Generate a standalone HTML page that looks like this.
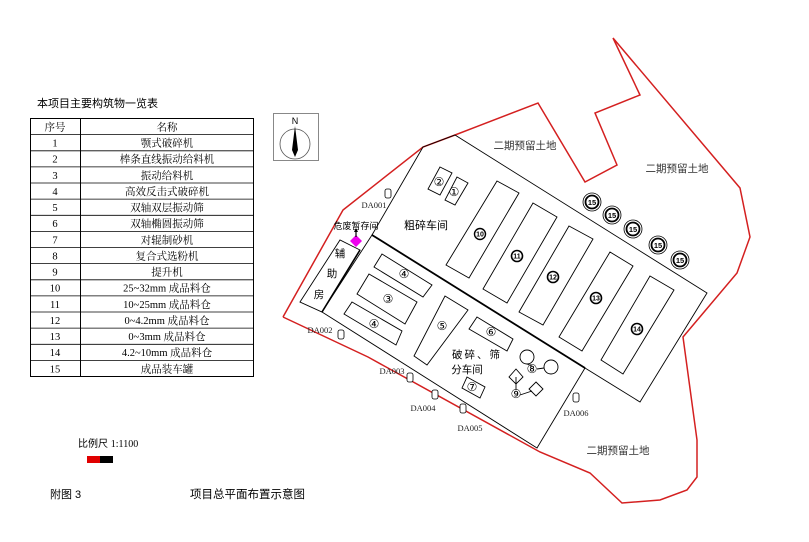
<!DOCTYPE html>
<html><head><meta charset="utf-8"><style>
html,body{margin:0;padding:0;background:#fff;}
body{width:809px;height:542px;position:relative;overflow:hidden;font-family:"Liberation Serif","Noto Serif CJK SC",serif;}
svg{position:absolute;left:0;top:0;}
</style></head><body>
<svg width="809" height="542" viewBox="0 0 809 542" xmlns="http://www.w3.org/2000/svg">
<g font-family="Liberation Serif, Noto Serif CJK SC, serif">
<!-- title -->
<text x="37" y="107" font-size="11" font-family="Liberation Sans, Noto Sans CJK SC, sans-serif">本项目主要构筑物一览表</text>
<!-- table -->
<g stroke="#000" stroke-width="1" fill="none">
<rect x="30.5" y="118.5" width="223" height="258"/>
<line x1="80.5" y1="118.5" x2="80.5" y2="376.5"/>
</g>
<g stroke="#000" stroke-width="0.8">
<line x1="30" x2="254" y1="134.6" y2="134.6"/><line x1="30" x2="254" y1="150.8" y2="150.8"/>
<line x1="30" x2="254" y1="166.9" y2="166.9"/><line x1="30" x2="254" y1="183" y2="183"/>
<line x1="30" x2="254" y1="199.1" y2="199.1"/><line x1="30" x2="254" y1="215.3" y2="215.3"/>
<line x1="30" x2="254" y1="231.4" y2="231.4"/><line x1="30" x2="254" y1="247.5" y2="247.5"/>
<line x1="30" x2="254" y1="263.6" y2="263.6"/><line x1="30" x2="254" y1="279.8" y2="279.8"/>
<line x1="30" x2="254" y1="295.9" y2="295.9"/><line x1="30" x2="254" y1="312" y2="312"/>
<line x1="30" x2="254" y1="328.1" y2="328.1"/><line x1="30" x2="254" y1="344.3" y2="344.3"/>
<line x1="30" x2="254" y1="360.4" y2="360.4"/>
</g>
<g font-size="10.5" text-anchor="middle">
<text x="55" y="130.5">序号</text><text x="167" y="130.5">名称</text>
<text x="55" y="146.5">1</text><text x="167" y="146.5">颚式破碎机</text>
<text x="55" y="162.7">2</text><text x="167" y="162.7">棒条直线振动给料机</text>
<text x="55" y="178.8">3</text><text x="167" y="178.8">振动给料机</text>
<text x="55" y="195">4</text><text x="167" y="195">高效反击式破碎机</text>
<text x="55" y="211.1">5</text><text x="167" y="211.1">双轴双层振动筛</text>
<text x="55" y="227.2">6</text><text x="167" y="227.2">双轴椭圆振动筛</text>
<text x="55" y="243.3">7</text><text x="167" y="243.3">对辊制砂机</text>
<text x="55" y="259.5">8</text><text x="167" y="259.5">复合式选粉机</text>
<text x="55" y="275.6">9</text><text x="167" y="275.6">提升机</text>
<text x="55" y="291.7">10</text><text x="167" y="291.7">25~32mm 成品料仓</text>
<text x="55" y="307.8">11</text><text x="167" y="307.8">10~25mm 成品料仓</text>
<text x="55" y="324">12</text><text x="167" y="324">0~4.2mm 成品料仓</text>
<text x="55" y="340.1">13</text><text x="167" y="340.1">0~3mm 成品料仓</text>
<text x="55" y="356.2">14</text><text x="167" y="356.2">4.2~10mm 成品料仓</text>
<text x="55" y="372.3">15</text><text x="167" y="372.3">成品装车罐</text>
</g>
<!-- compass -->
<rect x="273.5" y="113.5" width="45" height="47" fill="none" stroke="#888" stroke-width="1"/>
<circle cx="295" cy="144" r="15" fill="none" stroke="#555" stroke-width="0.8"/>
<polygon points="295,126 298,150 295,157 292,150" fill="#000"/>
<text x="295" y="124" font-size="9" text-anchor="middle" font-family="Liberation Sans, sans-serif">N</text>
<!-- red boundary -->
<polyline fill="none" stroke="#d42020" stroke-width="1.5" points="283,317 343,210 423,147 455,135 538,103 585,182 617,165 595,113 640,95 613,38 740,188 750,237 737,273 683,337 697,440 697,477 687,490 660,500 622,503 590,473 540,452 368,357 283,317"/>
<!-- buildings -->
<g fill="none" stroke="#000" stroke-width="0.9">
<polygon points="423,147 455,135 707,293 640,402 585,368 372,235"/>
<polygon points="372,235 585,368 537,448 322,312"/>
<polygon points="300,302 340,240 360,250 322,312"/>
<line x1="372" y1="235" x2="585" y2="368" stroke-width="1.8"/>
<line x1="360" y1="250" x2="322" y2="312" stroke-width="1.6"/>
<polygon points="497,181 519,193 469,278 446,265"/>
<polygon points="533,203 557,217 507,303 483,289"/>
<polygon points="569,226 593,239 543,325 519,312"/>
<polygon points="610,252 633,266 582,351 559,337"/>
<polygon points="650,276 674,290 623,374 601,360"/>
<polygon points="440,167 452,173 440,195 428,189"/>
<polygon points="457,177 468,183 455,205 445,200"/>
<polygon points="382,254 432,285 423,297 374,267"/>
<polygon points="369,274 417,302 405,324 357,294"/>
<polygon points="352,302 402,331 396,345 344,314"/>
<polygon points="445,296 468,310 427,365 414,356"/>
<polygon points="477,317 513,339 507,351 469,329"/>
<polygon points="467,377 485,387 480,398 462,388"/>
<circle cx="527" cy="357" r="7"/><circle cx="551" cy="367" r="7"/>
<line x1="527" y1="364" x2="532" y2="366"/><line x1="537" y1="369" x2="544" y2="368"/>
<polygon points="516,369 523,377 516,384 509,377"/>
<polygon points="536,382 543,389 536,396 529,389"/>
<line x1="516" y1="377" x2="516" y2="390"/><line x1="520" y1="395" x2="532" y2="391"/>
</g>
<!-- 15 tanks -->
<g fill="none" stroke="#000">
<circle cx="592" cy="202" r="9" stroke-width="0.8"/><circle cx="592" cy="202" r="6.5" stroke-width="1.8"/>
<circle cx="612" cy="215" r="9" stroke-width="0.8"/><circle cx="612" cy="215" r="6.5" stroke-width="1.8"/>
<circle cx="633" cy="229" r="9" stroke-width="0.8"/><circle cx="633" cy="229" r="6.5" stroke-width="1.8"/>
<circle cx="658" cy="245" r="9" stroke-width="0.8"/><circle cx="658" cy="245" r="6.5" stroke-width="1.8"/>
<circle cx="680" cy="260" r="9" stroke-width="0.8"/><circle cx="680" cy="260" r="6.5" stroke-width="1.8"/>
</g>
<g font-size="7.5" text-anchor="middle" font-family="Liberation Sans, sans-serif" font-weight="bold">
<text x="592" y="205">15</text><text x="612" y="218">15</text><text x="633" y="232">15</text><text x="658" y="248">15</text><text x="680" y="263">15</text>
</g>
<!-- circled numbers -->
<g fill="none" stroke="#000">
<circle cx="480" cy="234" r="5.5" stroke-width="1.4"/>
<circle cx="517" cy="256" r="5.5" stroke-width="1.6"/>
<circle cx="553" cy="277" r="5.5" stroke-width="1.6"/>
<circle cx="596" cy="298" r="5.5" stroke-width="1.6"/>
<circle cx="637" cy="329" r="5.5" stroke-width="1.6"/>
</g>
<g font-size="7" text-anchor="middle" font-family="Liberation Sans, sans-serif" font-weight="bold">
<text x="480" y="236.5">10</text><text x="517" y="258.5">11</text><text x="553" y="279.5">12</text><text x="596" y="300.5">13</text><text x="637" y="331.5">14</text>
</g>
<g font-size="12" text-anchor="middle" font-family="DejaVu Sans, sans-serif">
<text x="439" y="186">②</text><text x="454" y="196">①</text>
<text x="404" y="278">④</text><text x="388" y="303">③</text><text x="374" y="328">④</text>
<text x="442" y="330">⑤</text><text x="491" y="336">⑥</text><text x="472" y="391">⑦</text>
<text x="532" y="373">⑧</text><text x="516" y="398">⑨</text>
</g>
<!-- labels -->
<g font-family="Liberation Sans, Noto Sans CJK SC, sans-serif">
<text x="426" y="229" font-size="11" text-anchor="middle">粗碎车间</text>
<text x="477" y="358" font-size="10.5" text-anchor="middle" letter-spacing="2">破碎、筛</text>
<text x="467" y="373" font-size="10.5" text-anchor="middle">分车间</text>
<text x="340" y="257" font-size="10.5" text-anchor="middle">辅</text>
<text x="332" y="277" font-size="10.5" text-anchor="middle">助</text>
<text x="319" y="298" font-size="10.5" text-anchor="middle">房</text>
<text x="356" y="229" font-size="9" text-anchor="middle">危废暂存间</text>
<text x="525" y="149" font-size="10.5" text-anchor="middle" fill="#333">二期预留土地</text>
<text x="677" y="172" font-size="10.5" text-anchor="middle" fill="#333">二期预留土地</text>
<text x="618" y="454" font-size="10.5" text-anchor="middle" fill="#333">二期预留土地</text>
</g>
<polygon points="356,235 362,241 356,247 350,241" fill="#ee00ee"/>
<line x1="356" y1="237" x2="356" y2="231" stroke="#000" stroke-width="1.2"/>
<polygon points="354,232 358,232 356,228" fill="#000"/>
<!-- DA cylinders -->
<g fill="#fff" stroke="#000" stroke-width="0.8">
<rect x="385" y="189" width="6" height="9" rx="2"/>
<rect x="338" y="330" width="6" height="9" rx="2"/>
<rect x="407" y="373" width="6" height="9" rx="2"/>
<rect x="432" y="390" width="6" height="9" rx="2"/>
<rect x="460" y="404" width="6" height="9" rx="2"/>
<rect x="573" y="393" width="6" height="9" rx="2"/>
</g>
<g font-size="8.5" text-anchor="middle" fill="#222">
<text x="374" y="208">DA001</text><text x="320" y="333">DA002</text><text x="392" y="374">DA003</text>
<text x="423" y="411">DA004</text><text x="470" y="431">DA005</text><text x="576" y="416">DA006</text>
</g>
<!-- scale and footer -->
<text x="78" y="447" font-size="10" font-family="Liberation Sans, Noto Sans CJK SC, sans-serif">比例尺 <tspan font-family="Liberation Serif, serif">1:1100</tspan></text>
<rect x="87" y="456" width="13" height="7" fill="#e00000"/>
<rect x="100" y="456" width="13" height="7" fill="#000"/>
<text x="50" y="498" font-size="11" font-family="Liberation Sans, Noto Sans CJK SC, sans-serif">附图 3</text>
<text x="190" y="498" font-size="11.5" font-family="Liberation Sans, Noto Sans CJK SC, sans-serif">项目总平面布置示意图</text>
</g>
</svg>
</body></html>
